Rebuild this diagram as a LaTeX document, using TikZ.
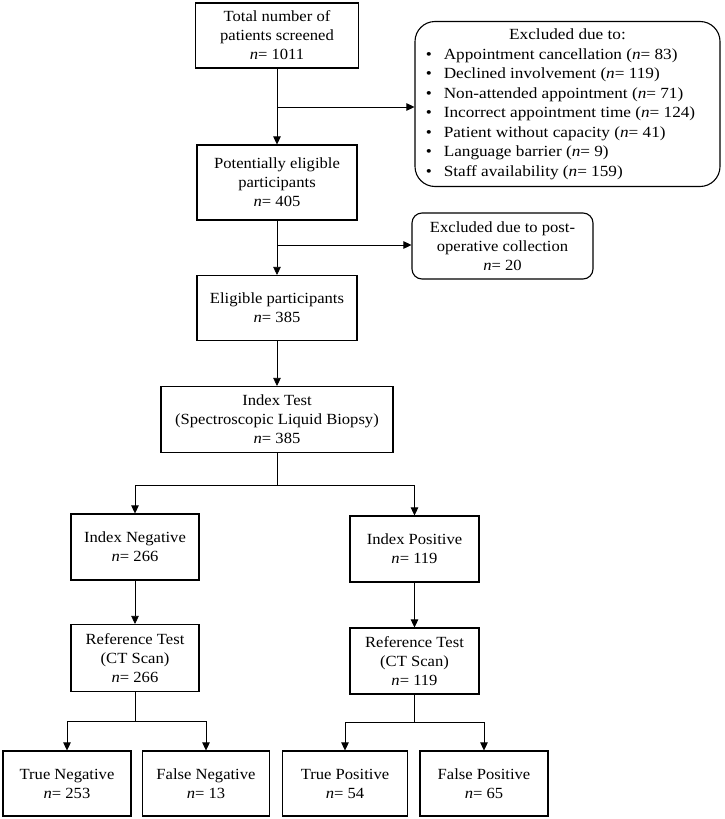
\documentclass[tikz,border=0pt]{standalone}
\usepackage{fontspec}
\setmainfont{Liberation Serif}[FakeStretch=1.07]
\newfontfamily\exclfont{Liberation Serif}[FakeStretch=1.11]
\usetikzlibrary{arrows.meta,calc}
\begin{document}
\begin{tikzpicture}[x=1pt,y=-1pt,
  box/.style={draw,line width=1.1pt,inner sep=0pt,align=center,font=\fontsize{15.5}{19}\selectfont},
  rbox/.style={box,rounded corners=#1},
  conn/.style={line width=0.7pt},
  arr/.style={conn,-{Triangle[length=8pt,width=7.5pt]}}]
\useasboundingbox (0,0) rectangle (724,819);
% main column
\node[box,minimum width=163pt,minimum height=65pt] (b1) at (277,35.5) {Total number of\\patients screened\\\textit{n}= 1011};
\node[box,minimum width=160pt,minimum height=75pt] (b2) at (277,182.5) {Potentially eligible\\participants\\\textit{n}= 405};
\node[box,minimum width=160pt,minimum height=65pt] (b3) at (277,308) {Eligible participants\\\textit{n}= 385};
\node[box,minimum width=232pt,minimum height=66pt] (b4) at (277,419.5) {Index Test\\(Spectroscopic Liquid Biopsy)\\\textit{n}= 385};
% exclusions
\node[rbox=20pt,minimum width=305pt,minimum height=165pt,font=\exclfont\fontsize{15.5}{19.5}\selectfont] (ex1) at (567.5,104) {\hspace*{-14pt}%
\begin{tabular}{@{}l@{\hspace{12pt}}l@{}}
\multicolumn{2}{c}{\hspace*{14pt}Excluded due to:}\\
\textbullet & Appointment cancellation (\textit{n}= 83)\\
\textbullet & Declined involvement (\textit{n}= 119)\\
\textbullet & Non-attended appointment (\textit{n}= 71)\\
\textbullet & Incorrect appointment time (\textit{n}= 124)\\
\textbullet & Patient without capacity (\textit{n}= 41)\\
\textbullet & Language barrier (\textit{n}= 9)\\
\textbullet & Staff availability (\textit{n}= 159)
\end{tabular}};
\node[rbox=10pt,minimum width=181pt,minimum height=66pt] (ex2) at (502.5,246) {Excluded due to post-\\operative collection\\\textit{n}= 20};
% branches
\node[box,minimum width=128pt,minimum height=66pt] (neg) at (135,547) {Index Negative\\\textit{n}= 266};
\node[box,minimum width=129pt,minimum height=66pt] (pos) at (414.5,549) {Index Positive\\\textit{n}= 119};
\node[box,minimum width=128pt,minimum height=67pt] (refn) at (135,658) {Reference Test\\(CT Scan)\\\textit{n}= 266};
\node[box,minimum width=129pt,minimum height=66pt] (refp) at (414.5,661) {Reference Test\\(CT Scan)\\\textit{n}= 119};
\node[box,minimum width=128pt,minimum height=65pt] (tn) at (67,783.5) {True Negative\\\textit{n}= 253};
\node[box,minimum width=127pt,minimum height=65pt] (fn) at (206,783.5) {False Negative\\\textit{n}= 13};
\node[box,minimum width=125pt,minimum height=65pt] (tp) at (345,783.5) {True Positive\\\textit{n}= 54};
\node[box,minimum width=128pt,minimum height=65pt] (fp) at (484,783.5) {False Positive\\\textit{n}= 65};
% junctions
\coordinate (j1) at (277,107);
\coordinate (j2) at (277,245);
\coordinate (s4) at (277,485);
\coordinate (sn) at (135,721);
\coordinate (sp) at (414.5,722);
% connectors
\draw[arr] (b1.south) -- (b1.south |- b2.north);
\draw[arr] (j1) -- (j1 -| ex1.west);
\draw[arr] (b2.south) -- (b2.south |- b3.north);
\draw[arr] (j2) -- (j2 -| ex2.west);
\draw[arr] (b3.south) -- (b3.south |- b4.north);
\draw[conn] (b4.south) -- (s4);
\draw[arr] (s4) -| (neg.north);
\draw[arr] (s4) -| (pos.north);
\draw[arr] (neg.south) -- (refn.north);
\draw[arr] (pos.south) -- (refp.north);
\draw[conn] (refn.south) -- (sn);
\draw[arr] (sn) -| (tn.north);
\draw[arr] (sn) -| (fn.north);
\draw[conn] (refp.south) -- (sp);
\draw[arr] (sp) -| (tp.north);
\draw[arr] (sp) -| (fp.north);
\end{tikzpicture}
\end{document}
